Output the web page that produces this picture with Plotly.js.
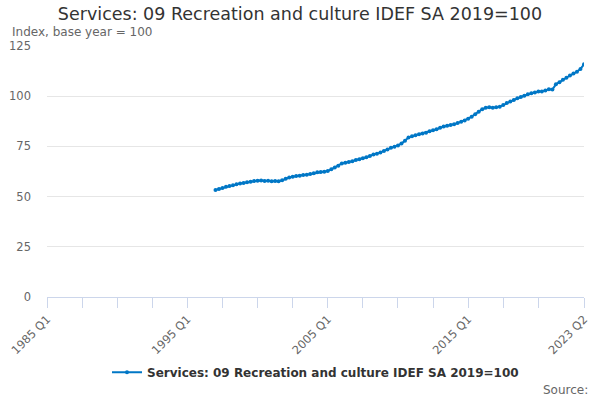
<!DOCTYPE html>
<html>
<head>
<meta charset="utf-8">
<script src="https://cdn.plot.ly/plotly-3.0.1.min.js"></script>
<style>html,body{margin:0;padding:0;background:#fff;}#chart{width:600px;height:400px;}</style>
</head>
<body>
<div id="chart"></div>
<script>
// Axis categories: quarters 1985 Q1 .. 2023 Q2
var firstYear = 1985, lastYear = 2023, lastQuarter = 2;
var categories = [];
for (var y = firstYear; y <= lastYear; y++) {
  for (var q = 1; q <= 4; q++) {
    if (y === lastYear && q > lastQuarter) break;
    categories.push(y + ' Q' + q);
  }
}
// Series starts 1997 Q1
var seriesStart = '1997 Q1';
var seriesName = 'Services: 09 Recreation and culture IDEF SA 2019=100';
var seriesValues = [
  53.3, 53.8, 54.3, 54.9,   // 1997
  55.3, 55.7, 56.1, 56.5,   // 1998
  56.8, 57.1, 57.4, 57.8,   // 1999
  57.9, 58.0, 57.8, 57.9,   // 2000
  57.7, 57.8, 57.7, 58.1,   // 2001
  58.9, 59.5, 59.9, 60.3,   // 2002
  60.4, 60.8, 60.9, 61.2,   // 2003
  61.6, 62.1, 62.2, 62.4,   // 2004
  62.7, 63.6, 64.5, 65.4,   // 2005
  66.5, 66.9, 67.2, 67.6,   // 2006
  68.2, 68.6, 69.1, 69.6,   // 2007
  70.2, 71.0, 71.3, 71.9,   // 2008
  72.7, 73.5, 74.3, 74.8,   // 2009
  75.5, 76.4, 77.8, 79.4,   // 2010
  80.1, 80.6, 81.0, 81.4,   // 2011
  81.8, 82.5, 83.0, 83.5,   // 2012
  84.3, 84.9, 85.3, 85.7,   // 2013
  86.0, 86.6, 87.3, 87.9,   // 2014
  88.8, 89.8, 91.0, 92.3,   // 2015
  93.5, 94.2, 94.5, 94.3,   // 2016
  94.5, 94.8, 95.6, 96.6,   // 2017
  97.3, 98.1, 99.0, 99.6,   // 2018
  100.2, 101.0, 101.5, 101.8, // 2019
  102.3, 102.4, 102.8, 103.4, // 2020
  103.3, 105.9, 107.0, 108.2, // 2021
  109.2, 110.3, 111.3, 112.2, // 2022
  113.6, 115.9              // 2023
];
var tickLabels = ['1985 Q1', '1995 Q1', '2005 Q1', '2015 Q1', '2023 Q2'];
var yTicks = [0, 25, 50, 75, 100, 125];

var startIdx = categories.indexOf(seriesStart);
var xs = categories.slice(startIdx, startIdx + seriesValues.length);

// tick positions every 10 quarters (labels only on tickLabels)
var tickvals = [], ticktext = [];
for (var i = 0; i < categories.length - 10; i += 10) {
  tickvals.push(categories[i]);
  ticktext.push(tickLabels.indexOf(categories[i]) >= 0 ? categories[i] : '');
}
tickvals.push(categories[categories.length - 1]);
ticktext.push(categories[categories.length - 1]);

var trace = {
  type: 'scatter', mode: 'lines+markers',
  x: xs, y: seriesValues, name: '<b>' + seriesName + '</b>',
  line: {color: '#0077c6', width: 2},
  marker: {color: '#0077c6', size: 4, symbol: 'circle'}
};

var layout = {
  width: 600, height: 400,
  margin: {l: 47, r: 16, t: 46, b: 103},
  paper_bgcolor: '#fff', plot_bgcolor: '#fff',
  font: {family: 'DejaVu Sans, sans-serif', color: '#666'},
  title: {text: seriesName, x: 0.5, xanchor: 'center', y: 1 - 14/400, yanchor: 'middle',
          font: {family: 'DejaVu Sans, sans-serif', size: 17.5, color: '#333'}},
  xaxis: {
    type: 'category', categoryorder: 'array', categoryarray: categories,
    range: [0, categories.length - 1], autorange: false,
    tickmode: 'array', tickvals: tickvals, ticktext: ticktext,
    tickangle: -45, ticks: 'outside', ticklen: 10, tickcolor: '#ccd6eb', tickwidth: 1,
    showline: true, linecolor: '#ccd6eb', linewidth: 1,
    showgrid: false, zeroline: false,
    tickfont: {size: 11.5, color: '#666'}
  },
  yaxis: {
    range: [0, 125], autorange: false,
    tickmode: 'array', tickvals: yTicks,
    showgrid: true, gridcolor: '#e6e6e6', gridwidth: 1,
    zeroline: false, showline: false, ticks: '', ticklabelstandoff: 15,
    tickfont: {size: 11.5, color: '#666'}
  },
  showlegend: true,
  legend: {orientation: 'h', x: 0.5, xanchor: 'center', y: -0.30, yanchor: 'middle',
           font: {size: 12, color: '#333'}},
  annotations: [
    {text: 'Index, base year = 100', xref: 'paper', yref: 'paper',
     x: (10 - 47) / 537, xanchor: 'left', y: 1 + (46 - 31.5) / 251, yanchor: 'middle',
     showarrow: false, font: {size: 12, color: '#666'}},
    {text: 'Source:', xref: 'paper', yref: 'paper',
     x: (590 - 47) / 537, xanchor: 'right', y: -(390 - 297) / 251, yanchor: 'middle',
     showarrow: false, font: {size: 12, color: '#666'}}
  ]
};

Plotly.newPlot('chart', [trace], layout, {displayModeBar: false, staticPlot: true});
</script>
</body>
</html>
